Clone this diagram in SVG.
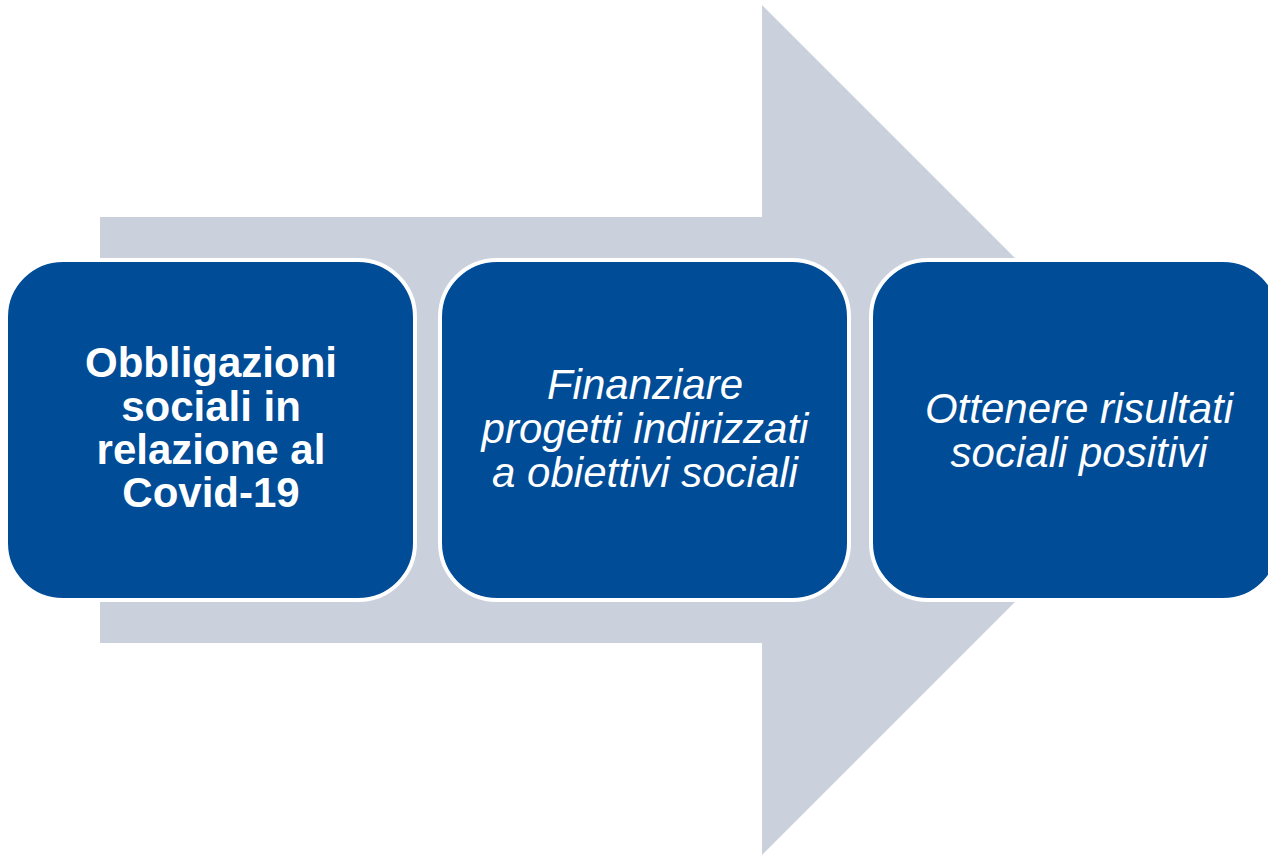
<svg xmlns="http://www.w3.org/2000/svg" width="1268" height="855" viewBox="0 0 1268 855">
<style>
.box{fill:#004C97;stroke:#FFFFFF;stroke-width:4}
.t{font-family:"Liberation Sans",Arial,sans-serif;font-size:42px;fill:#FFFFFF;text-anchor:middle}
.b{font-weight:bold}
.i{font-style:italic}
</style>
<rect width="1268" height="855" fill="#FFFFFF"/>
<g id="arrow">
<polygon points="100,217 762,217 762,5 1187,430 762,855 762,643 100,643" fill="#CBD1DC"/>
</g>
<g id="node1">
<rect class="box" x="6" y="260" width="409" height="340" rx="57" ry="57"/>
<text class="t b" x="211" y="377">Obbligazioni</text>
<text class="t b" x="211" y="421">sociali in</text>
<text class="t b" x="211" y="464">relazione al</text>
<text class="t b" x="211" y="507">Covid-19</text>
</g>
<g id="node2">
<rect class="box" x="440" y="260" width="409" height="340" rx="57" ry="57"/>
<text class="t i" x="645" y="399">Finanziare</text>
<text class="t i" x="645" y="443">progetti indirizzati</text>
<text class="t i" x="645" y="487">a obiettivi sociali</text>
</g>
<g id="node3">
<rect class="box" x="871" y="260" width="409" height="340" rx="57" ry="57"/>
<text class="t i" x="1079" y="423">Ottenere risultati</text>
<text class="t i" x="1079" y="467">sociali positivi</text>
</g>
<g id="connectors"></g>
</svg>
